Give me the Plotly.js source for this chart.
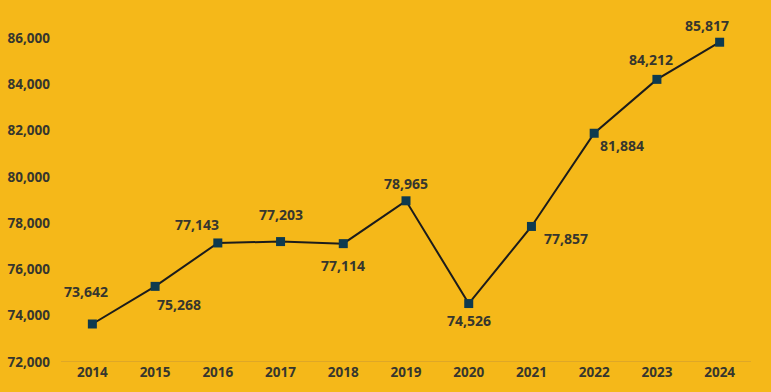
<!DOCTYPE html>
<html>
<head>
<meta charset="utf-8">
<script src="https://cdn.plot.ly/plotly-3.0.1.min.js"></script>
<style>html,body{margin:0;padding:0;background:#F5B819;}#chart{width:771px;height:392px;}</style>
</head>
<body>
<div id="chart"></div>
<script>
const years = ['2014','2015','2016','2017','2018','2019','2020','2021','2022','2023','2024'];
const values = [73642, 75268, 77143, 77203, 77114, 78965, 74526, 77857, 81884, 84212, 85817];
const yTicks = [72000, 74000, 76000, 78000, 80000, 82000, 84000, 86000];

// label offsets in pixels (style only)
const labelDx = [-6, 24, -21, 0, 0, 0, 0, 35, 28, -6, -13];
const labelDy = [33, -18, 18, 27, -22, 17, -17, -12, -12, 20, 17];

const fontFam = '"Open Sans", "Noto Sans", sans-serif';
const textCol = '#36362e';

const annotations = years.map((y, i) => ({
  x: i, y: values[i], xref: 'x', yref: 'y',
  text: values[i].toLocaleString('en-US'),
  showarrow: false, xshift: labelDx[i], yshift: labelDy[i],
  font: {family: fontFam, size: 14, color: textCol, weight: 700}
}));

Plotly.newPlot('chart', [{
  x: years, y: values, type: 'scatter', mode: 'lines+markers',
  line: {color: '#1c1c1c', width: 2},
  marker: {symbol: 'square', size: 9, color: '#0E3A4F'},
  hoverinfo: 'none'
}], {
  width: 771, height: 392,
  paper_bgcolor: '#F5B819', plot_bgcolor: '#F5B819',
  margin: {l: 61, r: 20, t: 16, b: 30},
  showlegend: false,
  annotations: annotations,
  xaxis: {
    type: 'category', range: [-0.5, 10.5],
    showgrid: false, zeroline: false,
    showline: false, ticks: '',
    tickfont: {family: fontFam, size: 13.5, color: textCol, weight: 700},
    fixedrange: true
  },
  yaxis: {
    range: [72000, 86950], tickvals: yTicks,
    ticktext: yTicks.map(v => v.toLocaleString('en-US')),
    showgrid: false, zeroline: false, showline: false, ticks: '',
    tickfont: {family: fontFam, size: 13.5, color: textCol, weight: 700},
    ticklabelstandoff: 10,
    fixedrange: true
  },
  shapes: [{type: 'line', xref: 'paper', yref: 'y', x0: 0, x1: 1, y0: 72000, y1: 72000,
    line: {color: '#D6A22C', width: 1.5}, layer: 'below'}]
}, {displayModeBar: false, staticPlot: true});
</script>
</body>
</html>
